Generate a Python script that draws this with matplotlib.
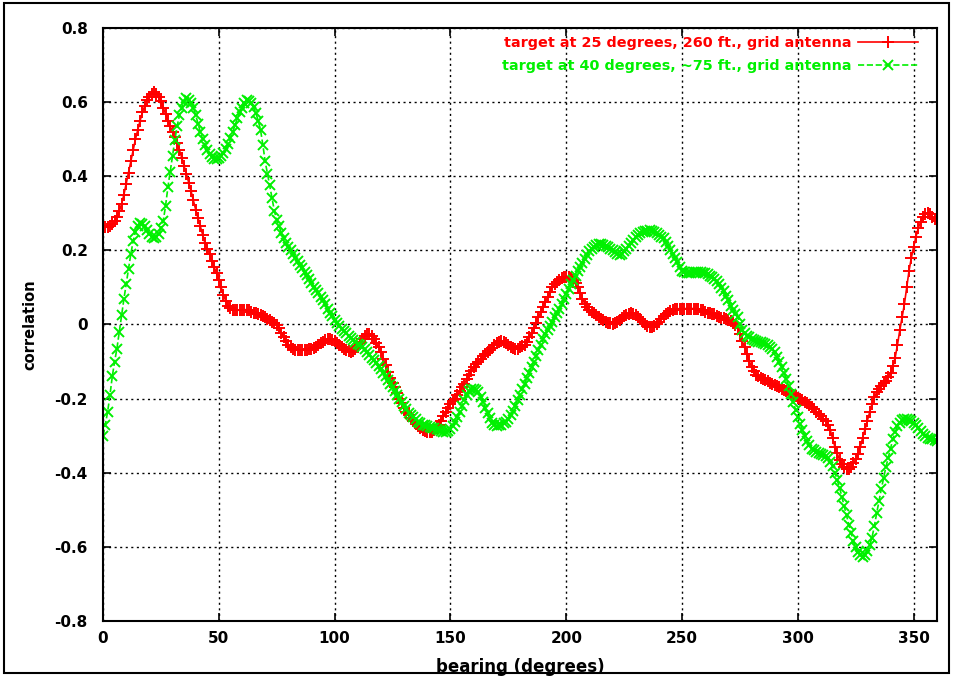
import numpy as np
import matplotlib
matplotlib.use("Agg")
import matplotlib.pyplot as plt
from matplotlib.patches import Rectangle

bearing = list(range(0, 361))

red_vals = [
    0.265, 0.263, 0.262, 0.265, 0.27, 0.278, 0.29, 0.305, 0.325, 0.35,
    0.38, 0.41, 0.44, 0.47, 0.50, 0.525, 0.55, 0.572, 0.59, 0.605,
    0.615, 0.623, 0.627, 0.623, 0.615, 0.602, 0.585, 0.568, 0.55, 0.535,
    0.52, 0.505, 0.49, 0.47, 0.45, 0.428, 0.405, 0.383, 0.36, 0.335,
    0.31, 0.288, 0.265, 0.242, 0.22, 0.205, 0.19, 0.172, 0.155, 0.138,
    0.12, 0.1, 0.08, 0.063, 0.05, 0.044, 0.04, 0.039, 0.038, 0.039,
    0.04, 0.04, 0.04, 0.038, 0.035, 0.032, 0.03, 0.028, 0.025, 0.022,
    0.02, 0.016, 0.012, 0.008, 0.005, -0.002, -0.01, -0.022, -0.035, -0.045,
    -0.055, -0.06, -0.065, -0.068, -0.07, -0.07, -0.07, -0.069, -0.068, -0.066,
    -0.065, -0.063, -0.06, -0.055, -0.05, -0.046, -0.042, -0.04, -0.039, -0.041,
    -0.045, -0.05, -0.055, -0.06, -0.065, -0.069, -0.072, -0.073, -0.072, -0.067,
    -0.06, -0.05, -0.04, -0.032, -0.026, -0.025, -0.03, -0.04, -0.05, -0.062,
    -0.075, -0.092, -0.11, -0.128, -0.145, -0.158, -0.17, -0.185, -0.2, -0.213,
    -0.225, -0.235, -0.245, -0.253, -0.26, -0.268, -0.275, -0.28, -0.285, -0.288,
    -0.29, -0.291, -0.29, -0.286, -0.28, -0.27, -0.26, -0.248, -0.235, -0.225,
    -0.215, -0.207, -0.2, -0.19, -0.18, -0.17, -0.16, -0.148, -0.135, -0.125,
    -0.115, -0.107, -0.1, -0.092, -0.085, -0.08, -0.075, -0.069, -0.063, -0.056,
    -0.05, -0.046, -0.045, -0.047, -0.05, -0.055, -0.06, -0.064, -0.066, -0.065,
    -0.062, -0.059, -0.055, -0.046, -0.035, -0.023, -0.01, 0.005, 0.02, 0.034,
    0.047, 0.061, 0.075, 0.088, 0.1, 0.108, 0.115, 0.12, 0.125, 0.127,
    0.128, 0.127, 0.125, 0.12, 0.112, 0.1, 0.085, 0.07, 0.055, 0.046,
    0.04, 0.035, 0.03, 0.025, 0.02, 0.016, 0.012, 0.008, 0.005, 0.003,
    0.002, 0.004, 0.008, 0.013, 0.018, 0.022, 0.026, 0.029, 0.03, 0.028,
    0.025, 0.02, 0.015, 0.008, 0.002, -0.003, -0.007, -0.006, -0.003, 0.002,
    0.008, 0.015, 0.022, 0.027, 0.032, 0.036, 0.04, 0.041, 0.042, 0.043,
    0.043, 0.043, 0.043, 0.043, 0.043, 0.043, 0.043, 0.041, 0.04, 0.038,
    0.035, 0.032, 0.03, 0.028, 0.027, 0.024, 0.02, 0.018, 0.017, 0.015,
    0.013, 0.01, 0.005, -0.002, -0.01, -0.025, -0.045, -0.062, -0.08, -0.098,
    -0.115, -0.125, -0.135, -0.14, -0.145, -0.148, -0.15, -0.153, -0.157, -0.16,
    -0.163, -0.166, -0.17, -0.173, -0.176, -0.18, -0.183, -0.187, -0.19, -0.194,
    -0.198, -0.201, -0.205, -0.209, -0.213, -0.217, -0.222, -0.228, -0.235, -0.241,
    -0.248, -0.254, -0.26, -0.27, -0.285, -0.307, -0.33, -0.348, -0.365, -0.377,
    -0.385, -0.389, -0.39, -0.384, -0.375, -0.363, -0.35, -0.33, -0.305, -0.282,
    -0.26, -0.237, -0.215, -0.197, -0.183, -0.173, -0.165, -0.158, -0.152, -0.143,
    -0.13, -0.113, -0.09, -0.055, -0.016, 0.02, 0.055, 0.1, 0.145, 0.18,
    0.21, 0.237, 0.26, 0.277, 0.29, 0.297, 0.3, 0.297, 0.29, 0.285,
    0.28,
]

green_vals = [
    -0.3, -0.27, -0.235, -0.19, -0.14, -0.1, -0.065, -0.02, 0.025, 0.068,
    0.11, 0.15, 0.19, 0.225, 0.25, 0.265, 0.275, 0.272, 0.265, 0.255,
    0.245, 0.237, 0.232, 0.235, 0.245, 0.26, 0.28, 0.32, 0.37, 0.412,
    0.455, 0.497, 0.535, 0.565, 0.585, 0.6, 0.61, 0.606, 0.598, 0.585,
    0.565, 0.542, 0.52, 0.5, 0.485, 0.472, 0.46, 0.452, 0.447, 0.447,
    0.45, 0.455, 0.462, 0.474, 0.488, 0.503, 0.52, 0.538, 0.556, 0.572,
    0.585, 0.597, 0.605, 0.604, 0.598, 0.586, 0.57, 0.55, 0.525, 0.485,
    0.44, 0.407, 0.375, 0.34, 0.305, 0.283, 0.265, 0.248, 0.233, 0.221,
    0.21, 0.2, 0.19, 0.18, 0.17, 0.161, 0.152, 0.142, 0.133, 0.122,
    0.112, 0.102, 0.093, 0.084, 0.075, 0.065, 0.055, 0.043, 0.032, 0.022,
    0.013, 0.005, -0.003, -0.011, -0.018, -0.024, -0.03, -0.036, -0.042, -0.047,
    -0.052, -0.056, -0.06, -0.067, -0.075, -0.082, -0.09, -0.097, -0.105, -0.112,
    -0.12, -0.13, -0.14, -0.15, -0.16, -0.17, -0.18, -0.19, -0.2, -0.21,
    -0.22, -0.229, -0.238, -0.244, -0.25, -0.256, -0.262, -0.266, -0.27, -0.272,
    -0.274, -0.276, -0.278, -0.28, -0.283, -0.285, -0.288, -0.29, -0.291, -0.288,
    -0.283, -0.274, -0.263, -0.25, -0.235, -0.22, -0.205, -0.191, -0.18, -0.175,
    -0.173, -0.176, -0.182, -0.195, -0.21, -0.225, -0.24, -0.253, -0.265, -0.27,
    -0.273, -0.272, -0.27, -0.267, -0.264, -0.255, -0.245, -0.233, -0.22, -0.205,
    -0.19, -0.175, -0.16, -0.145, -0.13, -0.115, -0.1, -0.085, -0.07, -0.055,
    -0.04, -0.027, -0.015, -0.003, 0.008, 0.019, 0.03, 0.042, 0.055, 0.069,
    0.083, 0.097, 0.11, 0.121, 0.132, 0.143, 0.155, 0.167, 0.178, 0.188,
    0.198, 0.204, 0.21, 0.214, 0.217, 0.216, 0.215, 0.213, 0.21, 0.205,
    0.2, 0.195, 0.19, 0.188, 0.19, 0.197, 0.205, 0.212, 0.22, 0.228,
    0.235, 0.241, 0.246, 0.249, 0.252, 0.253, 0.254, 0.252, 0.25, 0.246,
    0.242, 0.237, 0.232, 0.222, 0.212, 0.201, 0.19, 0.179, 0.168, 0.156,
    0.145, 0.141, 0.138, 0.139, 0.14, 0.141, 0.142, 0.142, 0.141, 0.14,
    0.138, 0.135, 0.132, 0.128, 0.124, 0.116, 0.108, 0.099, 0.09, 0.078,
    0.065, 0.051, 0.038, 0.029, 0.02, 0.002, -0.015, -0.023, -0.03, -0.035,
    -0.04, -0.043, -0.045, -0.047, -0.048, -0.05, -0.052, -0.056, -0.06, -0.067,
    -0.075, -0.087, -0.1, -0.115, -0.13, -0.147, -0.165, -0.187, -0.21, -0.23,
    -0.25, -0.268, -0.285, -0.3, -0.315, -0.325, -0.335, -0.34, -0.345, -0.348,
    -0.35, -0.352, -0.355, -0.36, -0.37, -0.383, -0.4, -0.42, -0.44, -0.465,
    -0.49, -0.515, -0.54, -0.563, -0.585, -0.6, -0.615, -0.623, -0.628, -0.622,
    -0.61, -0.595, -0.575, -0.545, -0.51, -0.477, -0.445, -0.415, -0.385, -0.36,
    -0.335, -0.31, -0.29, -0.275, -0.265, -0.258, -0.255, -0.256, -0.258, -0.261,
    -0.265, -0.272, -0.28, -0.288, -0.295, -0.3, -0.305, -0.308, -0.31, -0.313,
    -0.315,
]

x_ticks = [0, 50, 100, 150, 200, 250, 300, 350]
y_ticks = [-0.8, -0.6, -0.4, -0.2, 0, 0.2, 0.4, 0.6, 0.8]
y_tick_labels = ["-0.8", "-0.6", "-0.4", "-0.2", "0", "0.2", "0.4", "0.6", "0.8"]
red_label = "target at 25 degrees, 260 ft., grid antenna"
green_label = "target at 40 degrees, ~75 ft., grid antenna"

plt.rcParams['font.family'] = ['DejaVu Sans']
plt.rcParams['font.weight'] = 'bold'

fig = plt.figure(figsize=(9.54, 6.76), dpi=100)
fig.patches.append(Rectangle((0.004, 0.005), 0.991, 0.990, transform=fig.transFigure,
                             fill=False, edgecolor='black', linewidth=1.5))
ax = fig.add_axes([0.108, 0.0814, 0.874, 0.8772])

ax.plot(bearing, red_vals, color='#ff0000', linestyle='-', linewidth=1.2,
        marker='+', markersize=9, markeredgewidth=1.4, label=red_label)
ax.plot(bearing, green_vals, color='#00f000', linestyle='--', linewidth=1.2,
        marker='x', markersize=7, markeredgewidth=1.4, label=green_label)

ax.set_xlim(0, 360)
ax.set_ylim(-0.8, 0.8)
ax.set_xticks(x_ticks)
ax.set_yticks(y_ticks)
ax.set_yticklabels(y_tick_labels)
ax.tick_params(direction='in', length=6, width=1.2, top=True, right=True,
               labelsize=11)
ax.tick_params(axis='x', pad=7)
ax.tick_params(axis='y', pad=11)
for lab in ax.get_xticklabels() + ax.get_yticklabels():
    lab.set_fontweight('bold')
ax.grid(True, color='black', linestyle=(0, (1.5, 2.5)), linewidth=1.0)
for s in ax.spines.values():
    s.set_linewidth(1.5)

ax.set_xlabel("bearing (degrees)", fontsize=12, fontweight='bold', labelpad=9)
ax.set_ylabel("correlation", fontsize=10.5, fontweight='bold', labelpad=12)

leg = ax.legend(loc='upper right', bbox_to_anchor=(0.977, 0.987), frameon=False,
                markerfirst=False, labelcolor='linecolor', handlelength=4.1,
                borderaxespad=0, borderpad=0, labelspacing=0.62, handletextpad=0.5,
                prop={'weight': 'bold', 'size': 10.4})

fig.savefig("out.png", dpi=100)
